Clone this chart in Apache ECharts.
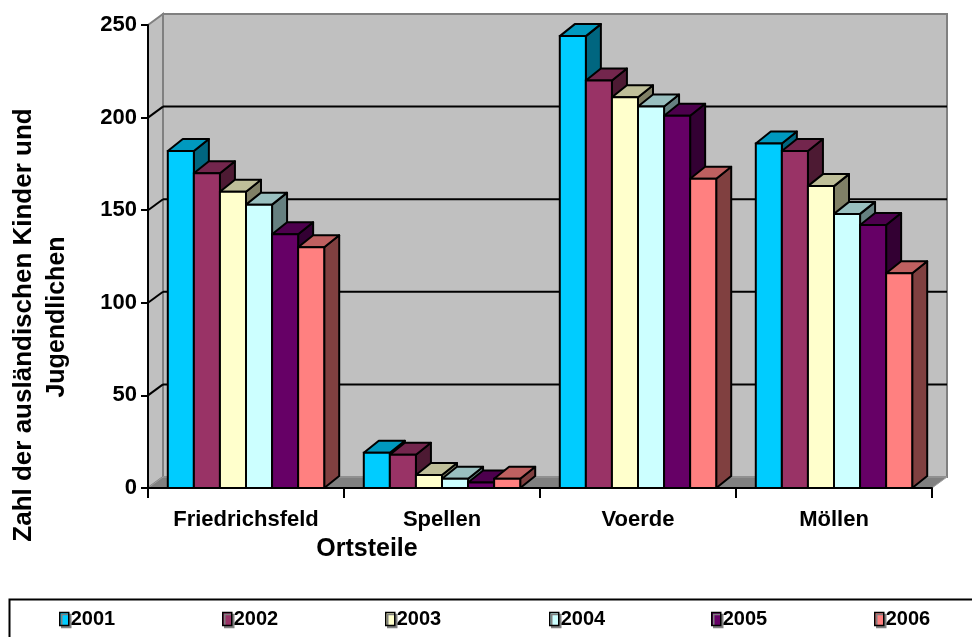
<!DOCTYPE html>
<html><head><meta charset="utf-8">
<script src="https://cdn.jsdelivr.net/npm/echarts@6/dist/echarts.min.js"></script>
<style>html,body{margin:0;padding:0;background:#fff}#c{width:972px;height:637px}</style>
</head><body><div id="c"></div>
<script>
const categories = ['Friedrichsfeld', 'Spellen', 'Voerde', 'Möllen'];
const years = ['2001', '2002', '2003', '2004', '2005', '2006'];
const v2001 = [182, 19, 244, 186];
const v2002 = [170, 18, 220, 182];
const v2003 = [160, 7, 211, 163];
const v2004 = [153, 5, 206, 148];
const v2005 = [137, 3, 201, 142];
const v2006 = [130, 5, 167, 116];
const yTicks = [0, 50, 100, 150, 200, 250];
const xTitle = 'Ortsteile';
const yTitle1 = 'Zahl der ausländischen Kinder und';
const yTitle2 = 'Jugendlichen';

const seriesValues = [v2001, v2002, v2003, v2004, v2005, v2006];
const frontColors = ['#00CCFF', '#993366', '#FFFFCC', '#CCFFFF', '#660066', '#FF8080'];
const legendLefts = [59, 222, 385, 549, 711, 874];
const FONT = '"Liberation Sans", Arial, sans-serif';
const WDX = 15, WDY = 11;   // wall depth offset
const BDX = 15, BDY = 12;   // bar depth offset

function shade(hex, f) {
  const n = parseInt(hex.slice(1), 16);
  const r = Math.round(((n >> 16) & 255) * f), g = Math.round(((n >> 8) & 255) * f), b = Math.round((n & 255) * f);
  return 'rgb(' + r + ',' + g + ',' + b + ')';
}

function wallRender(params, api) {
  const cs = params.coordSys;
  const L = cs.x, R = cs.x + cs.width;
  const B = api.coord([0, yTicks[0]])[1];
  const T = api.coord([0, yTicks[yTicks.length - 1]])[1];
  const ch = [
    { type: 'polygon', shape: { points: [[L + WDX, T - WDY], [R + WDX, T - WDY], [R + WDX, B - WDY], [L + WDX, B - WDY]] },
      style: { fill: '#c0c0c0', stroke: '#808080', lineWidth: 2 } },
    { type: 'polygon', shape: { points: [[L, T], [L + WDX, T - WDY], [L + WDX, B - WDY], [L, B]] },
      style: { fill: '#c0c0c0', stroke: '#808080', lineWidth: 2 } },
    { type: 'polygon', shape: { points: [[L, B], [L + WDX, B - WDY], [R + WDX, B - WDY], [R, B]] },
      style: { fill: '#808080', stroke: '#a0a0a0', lineWidth: 1 } }
  ];
  yTicks.slice(1, -1).forEach(function (t) {
    const y = api.coord([0, t])[1];
    ch.push({ type: 'line', shape: { x1: L + WDX, y1: y - WDY, x2: R + WDX, y2: y - WDY }, style: { stroke: '#000', lineWidth: 2 } });
    ch.push({ type: 'line', shape: { x1: L, y1: y, x2: L + WDX, y2: y - WDY }, style: { stroke: '#000', lineWidth: 2 } });
  });
  return { type: 'group', children: ch };
}

function barRender(s) {
  const front = frontColors[s], topc = shade(frontColors[s], 0.75), side = shade(frontColors[s], 0.5);
  return function (params, api) {
    const cat = api.value(0), val = api.value(1);
    const base = api.coord([cat, 0]);
    const top = api.coord([cat, val]);
    const band = api.size([1, 0])[0];
    const bw = band * 0.133;
    const x0 = base[0] - 3 * bw + s * bw, x1 = x0 + bw;
    const yT = top[1], yB = base[1];
    return { type: 'group', children: [
      { type: 'polygon', shape: { points: [[x1, yB], [x1 + BDX, yB - BDY], [x1 + BDX, yT - BDY], [x1, yT]] },
        style: { fill: side, stroke: '#000', lineWidth: 2, lineJoin: 'round' } },
      { type: 'polygon', shape: { points: [[x0, yT], [x0 + BDX, yT - BDY], [x1 + BDX, yT - BDY], [x1, yT]] },
        style: { fill: topc, stroke: '#000', lineWidth: 2, lineJoin: 'round' } },
      { type: 'rect', shape: { x: x0, y: yT, width: bw, height: yB - yT },
        style: { fill: front, stroke: '#000', lineWidth: 2 } }
    ] };
  };
}

const series = [{
  type: 'custom', name: '_walls', z: 0, silent: true,
  renderItem: wallRender, data: [[0, 0]], clip: false
}];
years.forEach(function (y, s) {
  series.push({
    type: 'custom', name: y, z: 2 + s, clip: false,
    itemStyle: { color: frontColors[s] },
    renderItem: barRender(s),
    data: seriesValues[s].map(function (v, i) { return [i, v]; })
  });
});

const legends = years.map(function (y, s) {
  return {
    data: [y], left: legendLefts[s], top: 609, padding: 0,
    itemWidth: 9, itemHeight: 13, icon: 'rect',
    itemStyle: { borderColor: '#000', borderWidth: 1.5, shadowColor: '#808080', shadowOffsetX: 2, shadowOffsetY: 2 },
    textStyle: { fontSize: 20, fontWeight: 'bold', color: '#000', fontFamily: FONT, padding: [0, 0, 0, -3] }
  };
});

const chart = echarts.init(document.getElementById('c'), null, { renderer: 'canvas' });
chart.setOption({
  animation: false,
  backgroundColor: '#fff',
  grid: { left: 148, right: 40, top: 25, bottom: 149 },
  xAxis: {
    type: 'category', data: categories, z: 10,
    axisLine: { lineStyle: { color: '#000', width: 2 } },
    axisTick: { show: true, length: 10, lineStyle: { color: '#000', width: 2 } },
    axisLabel: { margin: 21, fontSize: 22, fontWeight: 'bold', color: '#000', fontFamily: FONT },
    splitLine: { show: false }
  },
  yAxis: {
    type: 'value', min: 0, max: 250, interval: 50, z: 10,
    axisLine: { show: true, lineStyle: { color: '#000', width: 2 } },
    axisTick: { show: true, length: 7, lineStyle: { color: '#000', width: 2 } },
    axisLabel: { margin: 11, fontSize: 22, fontWeight: 'bold', color: '#000', fontFamily: FONT },
    splitLine: { show: false }
  },
  legend: legends,
  graphic: [
    { type: 'rect', left: 7, top: 597, shape: { width: 980, height: 60 }, style: { fill: 'none', stroke: '#000', lineWidth: 2 }, z: 1 },
    { type: 'text', x: 367, y: 549, style: { text: xTitle, font: 'bold 25px ' + FONT, fill: '#000', textAlign: 'center', textVerticalAlign: 'middle' } },
    { type: 'text', x: 24, y: 325, rotation: Math.PI / 2, style: { text: yTitle1, font: 'bold 26px ' + FONT, fill: '#000', textAlign: 'center', textVerticalAlign: 'middle' } },
    { type: 'text', x: 57, y: 317, rotation: Math.PI / 2, style: { text: yTitle2, font: 'bold 25px ' + FONT, fill: '#000', textAlign: 'center', textVerticalAlign: 'middle' } }
  ],
  series: series
});
</script></body></html>
